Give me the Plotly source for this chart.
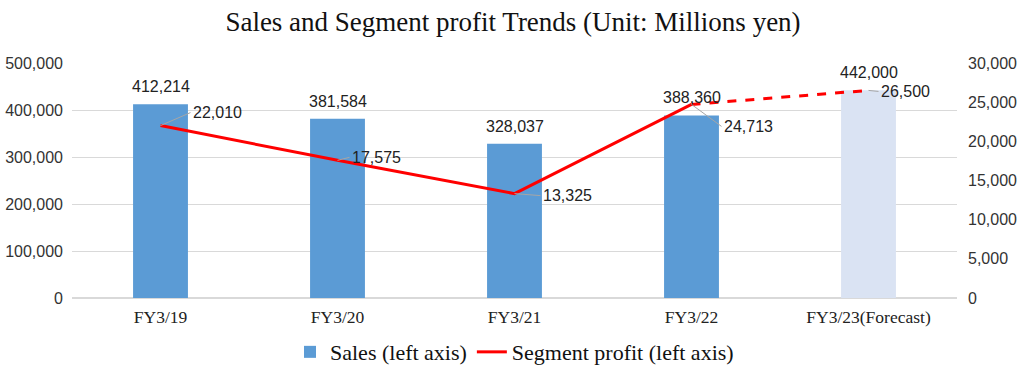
import plotly.graph_objects as go

categories = ["FY3/19", "FY3/20", "FY3/21", "FY3/22", "FY3/23(Forecast)"]
sales = [412214, 381584, 328037, 388360, 442000]
profit = [22010, 17575, 13325, 24713, 26500]
sales_labels = ["412,214", "381,584", "328,037", "388,360", "442,000"]
profit_labels = ["22,010", "17,575", "13,325", "24,713", "26,500"]
bar_colors = ["#5B9BD5", "#5B9BD5", "#5B9BD5", "#5B9BD5", "#DAE3F3"]
# label offsets (pixels) for profit labels
label_dx = [30, 12, 26, 30, 10]
label_dy = [-13, -3, 2, 22, 1]

LBL = dict(family="Liberation Sans", size=16, color="#222")

fig = go.Figure()
fig.add_trace(go.Bar(
    x=categories, y=sales, name="Sales (left axis)",
    marker=dict(color=bar_colors, line=dict(width=0)),
    width=0.31, yaxis="y",
))
fig.add_trace(go.Scatter(
    x=categories[:4], y=profit[:4], name="Segment profit (left axis)",
    mode="lines", line=dict(color="#FF0000", width=3), yaxis="y2",
))
fig.add_trace(go.Scatter(
    x=categories[3:], y=profit[3:], showlegend=False,
    mode="lines", line=dict(color="#FF0000", width=3, dash="dash"), yaxis="y2",
))

for c, v, t in zip(categories, sales, sales_labels):
    fig.add_annotation(x=c, y=v, xref="x", yref="y", text=t, showarrow=False,
                       yanchor="bottom", yshift=7, font=LBL)

for c, v, t, dx, dy in zip(categories, profit, profit_labels, label_dx, label_dy):
    fig.add_annotation(
        x=c, y=v, xref="x", yref="y2", text=t, showarrow=True,
        arrowhead=0, arrowwidth=1, arrowcolor="#A6A6A6",
        ax=dx, ay=dy, xanchor="left", yanchor="middle", font=LBL,
    )

fig.update_layout(
    width=1026, height=371,
    margin=dict(l=72, r=69, t=63, b=73, autoexpand=False),
    paper_bgcolor="white", plot_bgcolor="white",
    title=dict(text="Sales and Segment profit Trends (Unit: Millions yen)",
               x=0.5, xanchor="center", y=1 - 22 / 371, yanchor="middle",
               font=dict(family="Liberation Serif", size=27, color="#111")),
    xaxis=dict(showgrid=False, showline=False, ticks="",
               tickfont=dict(family="Liberation Serif", size=17.5, color="#222"),
               ticklabelstandoff=6),
    yaxis=dict(range=[0, 500000], dtick=100000, tickformat=",",
               showgrid=True, gridcolor="#D9D9D9", gridwidth=1,
               zeroline=True, zerolinecolor="#D9D9D9", showline=False,
               tickfont=dict(family="Liberation Sans", size=16, color="#333"),
               ticklabelstandoff=8),
    yaxis2=dict(range=[0, 30000], dtick=5000, tickformat=",",
                overlaying="y", side="right", showgrid=False, zeroline=False,
                tickfont=dict(family="Liberation Sans", size=16, color="#333"),
                ticklabelstandoff=10),
    legend=dict(orientation="h", x=0.5, xanchor="center", y=-0.23, yanchor="middle",
                font=dict(family="Liberation Serif", size=22, color="#111"),
                itemwidth=30, tracegroupgap=0),
    showlegend=True,
)

fig.write_html("out.html", config={"displayModeBar": False},
               post_script="document.body.style.margin='0';")
